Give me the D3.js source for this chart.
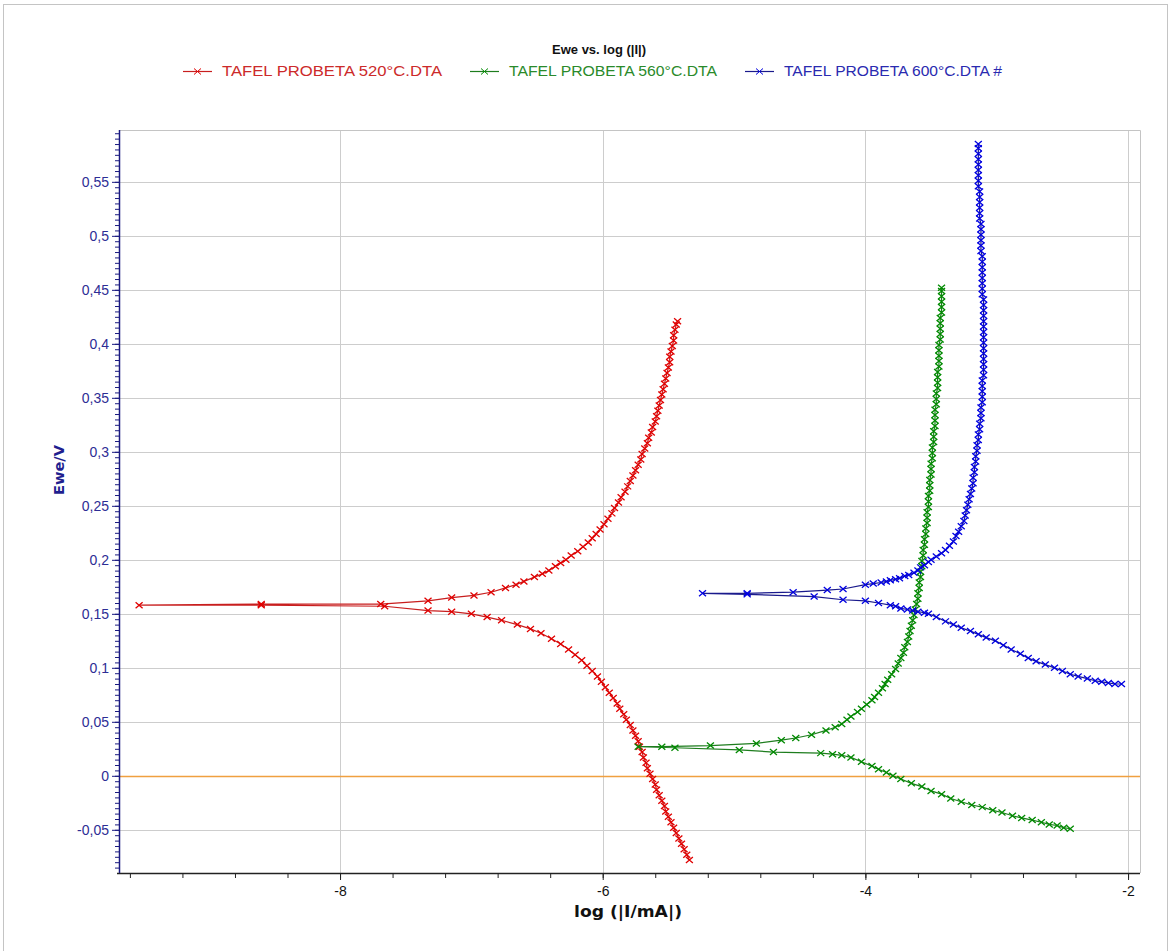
<!DOCTYPE html>
<html>
<head>
<meta charset="utf-8">
<script src="https://cdn.jsdelivr.net/npm/d3@7/dist/d3.min.js"></script>
<style>
body { margin: 0; background: #fff; }
svg text { font-family: "Liberation Sans", Arial, sans-serif; }
</style>
</head>
<body>
<div id="chart"></div>
<script>
var width = 1170, height = 951;
var margin = {left: 119, right: 30, top: 130, bottom: 78};

// log(|I/mA|), Ewe/V  -- in scan order (cathodic end -> Ecorr -> anodic end)
var tafel520 = [
  [-5.34,-0.078],[-5.36,-0.073],[-5.38,-0.068],[-5.40,-0.063],[-5.42,-0.058],[-5.44,-0.053],
  [-5.46,-0.048],[-5.48,-0.043],[-5.50,-0.038],[-5.52,-0.033],[-5.53,-0.028],[-5.55,-0.023],
  [-5.57,-0.018],[-5.59,-0.013],[-5.60,-0.008],[-5.62,-0.003],[-5.64,0.002],[-5.66,0.007],
  [-5.67,0.012],[-5.69,0.017],[-5.70,0.022],[-5.72,0.027],[-5.73,0.032],[-5.75,0.037],
  [-5.77,0.042],[-5.79,0.047],[-5.82,0.052],[-5.84,0.057],[-5.87,0.062],[-5.89,0.067],
  [-5.92,0.072],[-5.95,0.077],[-5.98,0.082],[-6.01,0.087],[-6.04,0.092],[-6.08,0.097],
  [-6.12,0.102],[-6.16,0.107],[-6.21,0.112],[-6.26,0.117],[-6.32,0.122],[-6.39,0.127],
  [-6.47,0.132],[-6.55,0.136],[-6.65,0.140],[-6.77,0.144],[-6.88,0.147],[-7.00,0.150],
  [-7.15,0.152],[-7.33,0.153],[-7.66,0.157],[-8.60,0.158],[-9.53,0.158],
  [-8.60,0.159],[-7.69,0.159],[-7.33,0.162],[-7.15,0.165],[-6.98,0.167],[-6.85,0.170],
  [-6.74,0.174],[-6.66,0.177],[-6.60,0.180],[-6.52,0.184],[-6.46,0.187],[-6.41,0.190],
  [-6.36,0.194],[-6.32,0.197],[-6.28,0.200],[-6.24,0.204],[-6.19,0.208],[-6.15,0.212],
  [-6.11,0.216],[-6.08,0.220],[-6.05,0.224],[-6.02,0.228],[-5.99,0.233],[-5.96,0.238],
  [-5.93,0.243],[-5.91,0.248],[-5.88,0.253],[-5.86,0.258],[-5.83,0.263],[-5.81,0.268],
  [-5.79,0.273],[-5.77,0.278],[-5.75,0.283],[-5.73,0.288],[-5.71,0.293],[-5.70,0.298],
  [-5.68,0.303],[-5.66,0.308],[-5.65,0.313],[-5.63,0.318],[-5.62,0.323],[-5.60,0.328],
  [-5.59,0.333],[-5.58,0.338],[-5.57,0.343],[-5.56,0.348],[-5.55,0.353],[-5.54,0.358],
  [-5.53,0.363],[-5.52,0.368],[-5.51,0.373],[-5.50,0.378],[-5.49,0.383],[-5.49,0.388],
  [-5.48,0.393],[-5.47,0.398],[-5.46,0.403],[-5.46,0.408],[-5.45,0.413],[-5.44,0.418],
  [-5.43,0.421]
];
var tafel560 = [
  [-2.44,-0.049],[-2.49,-0.048],[-2.54,-0.046],[-2.60,-0.045],[-2.66,-0.043],[-2.73,-0.041],
  [-2.81,-0.039],[-2.88,-0.037],[-2.96,-0.034],[-3.03,-0.032],[-3.11,-0.029],[-3.19,-0.027],
  [-3.27,-0.024],[-3.35,-0.021],[-3.42,-0.017],[-3.50,-0.014],[-3.57,-0.010],[-3.65,-0.007],
  [-3.73,-0.003],[-3.79,0.000],[-3.84,0.003],[-3.90,0.006],[-3.95,0.009],[-4.03,0.013],
  [-4.11,0.017],[-4.18,0.019],[-4.25,0.020],[-4.34,0.021],[-4.70,0.022],[-4.96,0.024],
  [-5.45,0.026],[-5.73,0.027],
  [-5.55,0.027],[-5.18,0.028],[-4.83,0.030],[-4.64,0.033],[-4.53,0.035],[-4.41,0.038],
  [-4.30,0.042],[-4.23,0.045],[-4.18,0.048],[-4.14,0.052],[-4.11,0.055],[-4.06,0.059],
  [-4.03,0.062],[-3.99,0.066],[-3.95,0.070],[-3.93,0.073],[-3.90,0.077],[-3.87,0.081],
  [-3.85,0.085],[-3.83,0.089],[-3.80,0.094],[-3.77,0.099],[-3.75,0.104],[-3.73,0.109],
  [-3.71,0.114],[-3.70,0.119],[-3.68,0.124],[-3.67,0.129],[-3.66,0.134],[-3.65,0.139],
  [-3.64,0.144],[-3.63,0.149],[-3.62,0.154],[-3.61,0.159],[-3.60,0.164],[-3.60,0.169],
  [-3.59,0.174],[-3.59,0.179],[-3.58,0.184],[-3.58,0.189],[-3.57,0.194],[-3.57,0.199],
  [-3.56,0.204],[-3.56,0.209],[-3.55,0.214],[-3.55,0.219],[-3.54,0.224],[-3.54,0.229],
  [-3.53,0.234],[-3.53,0.239],[-3.53,0.244],[-3.52,0.249],[-3.52,0.254],[-3.52,0.259],
  [-3.51,0.264],[-3.51,0.269],[-3.51,0.274],[-3.50,0.279],[-3.50,0.284],[-3.50,0.289],
  [-3.49,0.294],[-3.49,0.299],[-3.49,0.304],[-3.48,0.309],[-3.48,0.314],[-3.48,0.319],
  [-3.47,0.324],[-3.47,0.329],[-3.47,0.334],[-3.47,0.339],[-3.46,0.344],[-3.46,0.349],
  [-3.46,0.354],[-3.45,0.359],[-3.45,0.364],[-3.45,0.369],[-3.45,0.374],[-3.44,0.379],
  [-3.44,0.384],[-3.44,0.389],[-3.44,0.394],[-3.44,0.399],[-3.43,0.404],[-3.43,0.409],
  [-3.43,0.414],[-3.43,0.419],[-3.43,0.424],[-3.42,0.429],[-3.42,0.434],[-3.42,0.439],
  [-3.42,0.444],[-3.42,0.449],[-3.42,0.452]
];
var tafel600 = [
  [-2.05,0.085],[-2.10,0.085],[-2.15,0.086],[-2.20,0.087],[-2.25,0.088],[-2.31,0.090],
  [-2.38,0.092],[-2.44,0.094],[-2.50,0.097],[-2.56,0.100],[-2.63,0.103],[-2.70,0.106],
  [-2.76,0.109],[-2.82,0.113],[-2.89,0.117],[-2.95,0.121],[-3.01,0.125],[-3.08,0.128],
  [-3.14,0.131],[-3.20,0.134],[-3.27,0.137],[-3.33,0.140],[-3.39,0.143],[-3.46,0.147],
  [-3.52,0.150],[-3.55,0.151],[-3.60,0.152],[-3.64,0.153],[-3.68,0.154],[-3.73,0.155],
  [-3.77,0.157],[-3.81,0.158],[-3.90,0.160],[-4.00,0.162],[-4.17,0.163],[-4.39,0.166],
  [-4.90,0.168],[-5.24,0.169],
  [-4.90,0.169],[-4.55,0.170],[-4.29,0.172],[-4.17,0.173],[-4.00,0.177],[-3.94,0.178],
  [-3.88,0.179],[-3.84,0.180],[-3.81,0.181],[-3.77,0.182],[-3.74,0.183],[-3.70,0.185],
  [-3.67,0.186],[-3.63,0.188],[-3.60,0.190],[-3.58,0.193],[-3.55,0.195],[-3.52,0.198],
  [-3.50,0.200],[-3.46,0.203],[-3.42,0.206],[-3.39,0.209],[-3.36,0.213],[-3.33,0.217],
  [-3.31,0.222],[-3.29,0.226],[-3.27,0.231],[-3.25,0.236],[-3.24,0.241],[-3.23,0.246],
  [-3.22,0.251],[-3.21,0.256],[-3.20,0.261],[-3.19,0.266],[-3.18,0.271],[-3.18,0.276],
  [-3.17,0.281],[-3.17,0.286],[-3.16,0.291],[-3.16,0.296],[-3.15,0.301],[-3.15,0.306],
  [-3.14,0.311],[-3.14,0.316],[-3.13,0.321],[-3.13,0.326],[-3.12,0.331],[-3.12,0.336],
  [-3.12,0.341],[-3.11,0.346],[-3.11,0.351],[-3.11,0.356],[-3.11,0.361],[-3.11,0.366],
  [-3.10,0.371],[-3.10,0.376],[-3.10,0.381],[-3.10,0.386],[-3.10,0.391],[-3.10,0.396],
  [-3.10,0.401],[-3.10,0.406],[-3.10,0.411],[-3.10,0.416],[-3.10,0.421],[-3.10,0.426],
  [-3.10,0.431],[-3.10,0.436],[-3.10,0.441],[-3.11,0.446],[-3.11,0.451],[-3.11,0.456],
  [-3.11,0.461],[-3.11,0.466],[-3.11,0.471],[-3.11,0.476],[-3.11,0.481],[-3.12,0.486],
  [-3.12,0.491],[-3.12,0.496],[-3.12,0.501],[-3.12,0.506],[-3.12,0.511],[-3.13,0.516],
  [-3.13,0.521],[-3.13,0.526],[-3.13,0.531],[-3.13,0.536],[-3.13,0.541],[-3.14,0.546],
  [-3.14,0.551],[-3.14,0.556],[-3.14,0.561],[-3.14,0.566],[-3.14,0.571],[-3.14,0.576],
  [-3.14,0.581],[-3.14,0.585]
];

var seriesNames = ['TAFEL PROBETA 520°C.DTA', 'TAFEL PROBETA 560°C.DTA', 'TAFEL PROBETA 600°C.DTA #'];
var seriesData = [tafel520, tafel560, tafel600];
var lineColors = ['#c81e1e', '#1e7d1e', '#1a1a8c'];
var markColors = ['#e00000', '#008a00', '#0000e0'];
var legendTextColors = ['#cc2a2a', '#2a8a2a', '#2a2ab0'];

var xMajorTicks = [-8, -6, -4, -2];
var xTickLabels = ['-8', '-6', '-4', '-2'];
var yMajorTicks = [-0.05, 0, 0.05, 0.1, 0.15, 0.2, 0.25, 0.3, 0.35, 0.4, 0.45, 0.5, 0.55];
var yTickLabels = ['-0,05', '0', '0,05', '0,1', '0,15', '0,2', '0,25', '0,3', '0,35', '0,4', '0,45', '0,5', '0,55'];

var xScale = d3.scaleLinear().domain([-9.683, -1.909]).range([margin.left, width - margin.right]);
var yScale = d3.scaleLinear().domain([-0.09, 0.598]).range([height - margin.bottom, margin.top]);

var svg = d3.select('#chart').append('svg')
    .attr('width', width)
    .attr('height', height);

// outer frame
svg.append('rect')
   .attr('x', 3.5).attr('y', 4.5)
   .attr('width', 1164).attr('height', 980)
   .style('fill', 'none')
   .style('stroke', '#c4c4c4');

var x0 = xScale.range()[0], x1 = xScale.range()[1];
var y0 = yScale.range()[0], y1 = yScale.range()[1];

// grid
var grid_g = svg.append('g');
grid_g.selectAll('line.gx').data(xMajorTicks).enter().append('line')
    .attr('x1', function(d) { return Math.round(xScale(d)) + 0.5; })
    .attr('x2', function(d) { return Math.round(xScale(d)) + 0.5; })
    .attr('y1', y1).attr('y2', y0)
    .style('stroke', '#cdcdcd');
grid_g.selectAll('line.gy').data(yMajorTicks.filter(function(d) { return d !== 0; })).enter().append('line')
    .attr('x1', x0).attr('x2', x1)
    .attr('y1', function(d) { return Math.round(yScale(d)) + 0.5; })
    .attr('y2', function(d) { return Math.round(yScale(d)) + 0.5; })
    .style('stroke', '#cdcdcd');

// plot frame (top / right)
svg.append('path')
   .attr('d', 'M' + x0 + ',' + (y1 + 0.5) + 'H' + (x1 + 0.5) + 'V' + y0)
   .style('fill', 'none')
   .style('stroke', '#c4c4c4');

// zero line
svg.append('line')
   .attr('x1', x0).attr('x2', x1)
   .attr('y1', Math.round(yScale(0)) + 0.5).attr('y2', Math.round(yScale(0)) + 0.5)
   .style('stroke', '#f0a040')
   .style('stroke-width', 1.3);

// series
var line = d3.line()
    .x(function(d) { return xScale(d[0]); })
    .y(function(d) { return yScale(d[1]); });

var cross = 'M-3.5,-3L3.5,3M-3.5,3L3.5,-3';

seriesData.forEach(function(data, i) {
    var g = svg.append('g');
    g.append('path')
     .datum(data)
     .attr('d', line)
     .style('fill', 'none')
     .style('stroke', lineColors[i])
     .style('stroke-width', 1.2);
    g.selectAll('path.mk').data(data).enter().append('path')
     .attr('class', 'mk')
     .attr('d', cross)
     .attr('transform', function(d) { return 'translate(' + xScale(d[0]) + ',' + yScale(d[1]) + ')'; })
     .style('fill', 'none')
     .style('stroke', markColors[i])
     .style('stroke-width', 1.3);
});

// x axis
var xAxis_g = svg.append('g')
    .attr('transform', 'translate(0,' + y0 + ')')
    .call(d3.axisBottom(xScale).tickValues(xMajorTicks).tickSize(7).tickPadding(6)
          .tickFormat(function(d, i) { return xTickLabels[i]; }));
svg.append('g')
   .attr('transform', 'translate(0,' + y0 + ')')
   .call(d3.axisBottom(xScale).tickValues(d3.range(-9.6, -1.95, 0.4)).tickSize(5).tickFormat(''))
   .call(function(g) { g.select('.domain').remove(); });
xAxis_g.selectAll('text').style('font-size', '14px').style('fill', '#111');
svg.selectAll('.tick line').style('stroke', '#222');
xAxis_g.select('.domain').attr('d', 'M' + (x0 - 2) + ',0.5H' + x1).style('stroke', '#222').style('stroke-width', 1.5);

// y axis
var yAxis_g = svg.append('g')
    .attr('transform', 'translate(' + x0 + ',0)')
    .call(d3.axisLeft(yScale).tickValues(yMajorTicks).tickSize(7).tickPadding(3)
          .tickFormat(function(d, i) { return yTickLabels[i]; }));
var yMinor_g = svg.append('g')
    .attr('transform', 'translate(' + x0 + ',0)')
    .call(d3.axisLeft(yScale).tickValues(d3.range(-0.085, 0.598, 0.005)).tickSize(4).tickFormat(''));
yMinor_g.select('.domain').remove();
yAxis_g.select('.domain').attr('d', 'M0.5,' + y1 + 'V' + y0).style('stroke', '#1a1a80').style('stroke-width', 1.5);
yAxis_g.selectAll('.tick line').style('stroke', '#1a1a80');
yMinor_g.selectAll('.tick line').style('stroke', '#1a1a80');
yAxis_g.selectAll('text').style('font-size', '14px').style('fill', '#2d2d95');

// axis titles
svg.append('text')
   .attr('x', 628).attr('y', 917)
   .attr('text-anchor', 'middle')
   .attr('textLength', 108)
   .attr('lengthAdjust', 'spacingAndGlyphs')
   .style('font-family', '"DejaVu Sans", sans-serif')
   .style('font-size', '15px')
   .style('font-weight', 'bold')
   .style('fill', '#111')
   .text('log (|I/mA|)');

svg.append('text')
   .attr('transform', 'translate(64,470) rotate(-90)')
   .attr('text-anchor', 'middle')
   .attr('textLength', 50)
   .attr('lengthAdjust', 'spacingAndGlyphs')
   .style('font-family', '"DejaVu Sans", sans-serif')
   .style('font-size', '14px')
   .style('font-weight', 'bold')
   .style('fill', '#1f1f8f')
   .text('Ewe/V');

// title + legend
svg.append('text')
   .attr('x', 599).attr('y', 54)
   .attr('text-anchor', 'middle')
   .style('font-size', '13px')
   .style('font-weight', 'bold')
   .style('fill', '#111')
   .text('Ewe vs. log (|I|)');

var legendX = [183, 470, 745];
var legendW = [220, 208, 218];
var legend_g = svg.append('g');
seriesNames.forEach(function(name, i) {
    var lx = legendX[i];
    legend_g.append('line')
        .attr('x1', lx).attr('x2', lx + 29)
        .attr('y1', 71.5).attr('y2', 71.5)
        .style('stroke', lineColors[i])
        .style('stroke-width', 1.2);
    legend_g.append('path')
        .attr('d', cross)
        .attr('transform', 'translate(' + (lx + 14.5) + ',71.5)')
        .style('fill', 'none')
        .style('stroke', markColors[i]);
    legend_g.append('text')
        .attr('x', lx + 39).attr('y', 76)
        .attr('textLength', legendW[i])
        .attr('lengthAdjust', 'spacingAndGlyphs')
        .style('font-size', '14px')
        .style('fill', legendTextColors[i])
        .text(name);
});
</script>
</body>
</html>
